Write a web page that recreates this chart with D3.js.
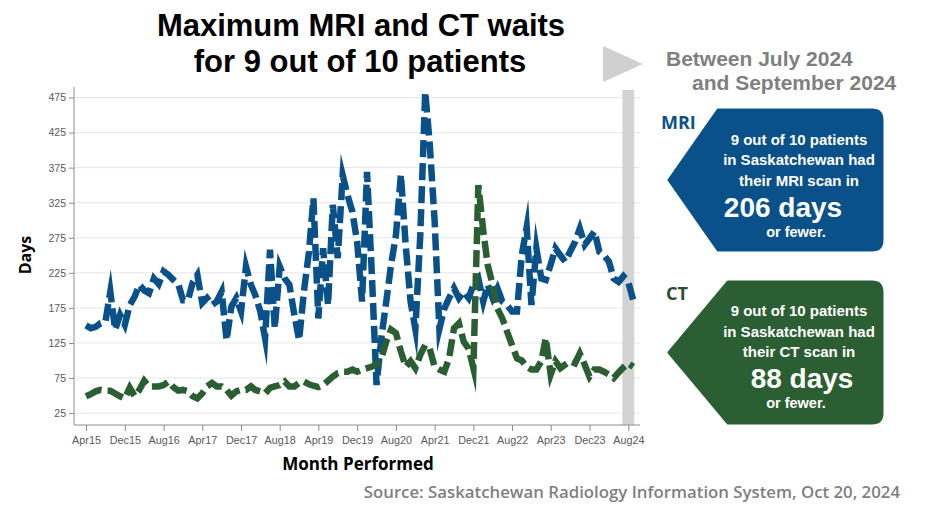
<!DOCTYPE html>
<html>
<head>
<meta charset="utf-8">
<script src="https://cdn.jsdelivr.net/npm/d3@7"></script>
<style>
  html, body { margin: 0; padding: 0; background: #ffffff; }
  svg { display: block; }
</style>
</head>
<body>
<svg id="chart" width="944" height="525"></svg>
<script>
// ---------------- DATA ----------------
const startMonth = "2015-04";
const endMonth = "2024-09";
const tickLabels = ["Apr15","Dec15","Aug16","Apr17","Dec17","Aug18","Apr19","Dec19","Aug20","Apr21","Dec21","Aug22","Apr23","Dec23","Aug24"];
const yTicks = [25, 75, 125, 175, 225, 275, 325, 375, 425, 475];

const mriDays = [
  150,146,148,153,155,198,144,165,151,179,
  191,208,200,196,217,209,227,222,215,209,
  186,186,212,222,182,189,179,184,198,129,
  177,189,170,234,208,193,170,132,258,146,
  234,217,208,165,129,200,255,331,160,260,
  179,322,246,364,336,312,269,184,369,230,
  65,132,184,236,279,365,265,184,145,279,
  483,410,300,145,174,189,203,189,198,189,
  208,217,184,208,189,203,184,179,170,170,
  250,290,179,260,217,215,237,260,250,241,
  255,269,288,265,274,284,255,250,241,217,
  212,220,212,186
];
const ctDays = [
  49,52,56,58,57,57,53,49,46,61,
  49,58,71,63,63,63,65,70,62,57,
  58,56,49,46,53,63,68,63,63,58,
  50,56,58,58,63,58,56,53,61,63,
  65,70,63,63,68,70,66,64,62,65,
  71,77,82,84,84,87,84,87,89,91,
  94,103,127,144,139,113,91,99,89,108,
  122,117,91,87,84,103,146,153,127,117,
  89,350,285,236,208,174,160,141,122,103,
  100,91,87,87,99,132,80,99,89,94,
  99,96,110,94,77,87,87,84,80,75,
  83,90,96,91
];
const highlightStart = "2024-07";
const highlightEnd = "2024-09";

const mriSummary = ["9 out of 10 patients", "in Saskatchewan had", "their MRI scan in"];
const mriValue = "206 days";
const ctSummary = ["9 out of 10 patients", "in Saskatchewan had", "their CT scan in"];
const ctValue = "88 days";

// ---------------- SETUP ----------------
const parseYM = d3.timeParse("%Y-%m");
const parseTick = d3.timeParse("%b%y");
const months = d3.timeMonth.range(parseYM(startMonth), d3.timeMonth.offset(parseYM(endMonth), 1));

const svg = d3.select("#chart");
const MRI_COLOR = "#0b5189";
const CT_COLOR = "#2c5e34";
const GREY_TEXT = "#7f7f7f";

const x = d3.scaleTime()
  .domain([parseTick("Apr15"), parseTick("Aug24")])
  .range([86, 628.3]);
const y = d3.scaleLinear().domain([8, 490]).range([425, 87]);

const plotLeft = 74, plotRight = 640, plotTop = 87, plotBottom = 425;

// gridlines
svg.append("g").selectAll("line").data(yTicks).join("line")
  .attr("x1", plotLeft).attr("x2", plotRight)
  .attr("y1", d => y(d)).attr("y2", d => y(d))
  .attr("stroke", "#e6e6e6").attr("stroke-width", 1);

// highlight band
svg.append("rect")
  .attr("x", x(parseYM(highlightStart)) - 1)
  .attr("y", 90)
  .attr("width", x(parseYM(highlightEnd)) - x(parseYM(highlightStart)) + 2)
  .attr("height", plotBottom - 90)
  .attr("fill", "#d3d3d3");

// axes
const tickFont = "'Liberation Sans', Arial, sans-serif";
const yAxis = d3.axisLeft(y).tickValues(yTicks).tickSize(5).tickPadding(3);
const gy = svg.append("g").attr("transform", `translate(${plotLeft},0)`).call(yAxis);
gy.select(".domain").attr("d", `M0,${plotTop}V${plotBottom}`).attr("stroke", "#8c8c8c");
gy.selectAll(".tick line").attr("stroke", "#8c8c8c");
gy.selectAll(".tick text").attr("fill", "#595959").style("font-family", tickFont).style("font-size", "10.5px");

const xAxis = d3.axisBottom(x).tickValues(tickLabels.map(parseTick)).tickFormat((d, i) => tickLabels[i]).tickSize(6).tickPadding(5);
const gx = svg.append("g").attr("transform", `translate(0,${plotBottom})`).call(xAxis);
gx.select(".domain").attr("d", `M${plotLeft},0H${plotRight}`).attr("stroke", "#8c8c8c");
gx.selectAll(".tick line").attr("stroke", "#8c8c8c");
gx.selectAll(".tick text").attr("fill", "#595959").style("font-family", tickFont).style("font-size", "10.8px");

// lines
const line = d3.line().x((d, i) => x(months[i])).y(d => y(d));
function drawSeries(vals, color) {
  svg.append("path")
    .datum(vals)
    .attr("d", line)
    .attr("fill", "none")
    .attr("stroke", color)
    .attr("stroke-width", 6.5)
    .attr("stroke-dasharray", "17,6")
    .attr("stroke-linejoin", "miter")
    .attr("stroke-miterlimit", 12);
}
drawSeries(mriDays, MRI_COLOR);
drawSeries(ctDays, CT_COLOR);

// titles
const titleFont = "'Open Sans', 'Noto Sans', sans-serif";
const boldFont = "'Liberation Sans', Arial, sans-serif";
svg.append("text").attr("x", 361).attr("y", 36).attr("text-anchor", "middle")
  .style("font-family", boldFont).style("font-weight", 700).style("font-size", "31px").attr("fill", "#000")
  .text("Maximum MRI and CT waits");
svg.append("text").attr("x", 360).attr("y", 72).attr("text-anchor", "middle")
  .style("font-family", boldFont).style("font-weight", 700).style("font-size", "31px").attr("fill", "#000")
  .text("for 9 out of 10 patients");

svg.append("text").attr("transform", "translate(31,255) rotate(-90)").attr("text-anchor", "middle")
  .style("font-family", titleFont).style("font-weight", 700).style("font-size", "16px").attr("fill", "#000")
  .text("Days");
svg.append("text").attr("x", 358).attr("y", 470).attr("text-anchor", "middle")
  .style("font-family", titleFont).style("font-weight", 700).style("font-size", "17px").attr("fill", "#000")
  .text("Month Performed");

svg.append("text").attr("x", 900).attr("y", 498).attr("text-anchor", "end")
  .style("font-family", titleFont).style("font-weight", 600).style("font-size", "16.8px").attr("fill", GREY_TEXT)
  .text("Source: Saskatchewan Radiology Information System, Oct 20, 2024");

// right panel
svg.append("path").attr("d", "M603,46L643,64L603,82Z").attr("fill", "#d0d0d0");
svg.append("text").attr("x", 666).attr("y", 66)
  .style("font-family", boldFont).style("font-weight", 700).style("font-size", "21px").attr("fill", GREY_TEXT)
  .text("Between July 2024");
svg.append("text").attr("x", 692).attr("y", 89.5)
  .style("font-family", boldFont).style("font-weight", 700).style("font-size", "21px").attr("fill", GREY_TEXT)
  .text("and September 2024");

function arrowBox(top, bottom, leftX, tipX, rightX) {
  const mid = (top + bottom) / 2, r = 10;
  return `M${tipX},${mid}L${leftX},${top}L${rightX - r},${top}Q${rightX},${top} ${rightX},${top + r}` +
    `L${rightX},${bottom - r}Q${rightX},${bottom} ${rightX - r},${bottom}L${leftX},${bottom}Z`;
}
const boxFont = "'Liberation Sans', Arial, sans-serif";
function summary(label, labelX, labelY, labelColor, top, bottom, leftX, color, lines, value, lineYs, valueX, valueY, fewerY) {
  svg.append("text").attr("x", labelX).attr("y", labelY)
    .style("font-family", titleFont).style("font-weight", 700).style("font-size", "18px").attr("fill", labelColor)
    .text(label);
  svg.append("path").attr("d", arrowBox(top, bottom, leftX, 669, 882))
    .attr("fill", color).attr("stroke", color).attr("stroke-width", 3).attr("stroke-linejoin", "round");
  lines.forEach((t, i) => {
    svg.append("text").attr("x", 799).attr("y", lineYs[i]).attr("text-anchor", "middle")
      .style("font-family", boxFont).style("font-weight", 700).style("font-size", "15px").attr("fill", "#fff")
      .text(t);
  });
  svg.append("text").attr("x", valueX).attr("y", valueY).attr("text-anchor", "middle")
    .style("font-family", boxFont).style("font-weight", 700).style("font-size", "28px").attr("fill", "#fff")
    .text(value);
  svg.append("text").attr("x", 796).attr("y", fewerY).attr("text-anchor", "middle")
    .style("font-family", boxFont).style("font-weight", 700).style("font-size", "14.5px").attr("fill", "#fff")
    .text("or fewer.");
}
summary("MRI", 661, 129, MRI_COLOR, 110, 250, 718, MRI_COLOR, mriSummary, mriValue, [145, 165, 186], 783, 217, 237);
summary("CT", 666, 300, "#2e4a36", 282, 423, 728, CT_COLOR, ctSummary, ctValue, [316, 337, 357], 802, 388, 408);
</script>
</body>
</html>
